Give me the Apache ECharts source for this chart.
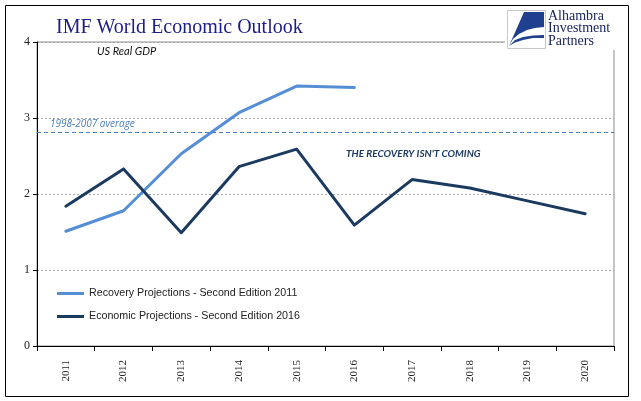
<!DOCTYPE html>
<html>
<head>
<meta charset="utf-8">
<script src="https://cdn.jsdelivr.net/npm/echarts@6/dist/echarts.min.js"></script>
<style>html,body{margin:0;padding:0;background:#fff}#c{width:641px;height:401px}</style>
</head>
<body>
<div id="c"></div>
<script>
var years = ['2011','2012','2013','2014','2015','2016','2017','2018','2019','2020'];
var recovery2011 = [1.51, 1.78, 2.53, 3.07, 3.42, 3.40, null, null, null, null];
var economic2016 = [1.84, 2.33, 1.49, 2.36, 2.59, 1.59, 2.19, 2.08, 1.91, 1.74];
var average19982007 = 2.81;
var yTicks = [0, 1, 2, 3, 4];

var chart = echarts.init(document.getElementById('c'), null, {renderer: 'canvas'});
var serif = '"Liberation Serif", "Times New Roman", serif';
var option = {
  animation: false,
  backgroundColor: '#ffffff',
  title: {
    text: 'IMF World Economic Outlook',
    left: 51, top: 13,
    textStyle: {fontFamily: serif, fontSize: 20, fontWeight: 'normal', color: '#1d1d86'}
  },
  grid: {left: 37, right: 27, top: 42, bottom: 55, show: true, borderColor: '#8c8c8c', borderWidth: 1, backgroundColor: 'transparent'},
  legend: {
    orient: 'vertical', left: 52, top: 283, itemWidth: 27, itemHeight: 3, itemGap: 12,
    icon: 'rect',
    textStyle: {fontFamily: '"Liberation Sans", Arial, sans-serif', fontSize: 10.7, color: '#222'},
    data: ['Recovery Projections - Second Edition 2011', 'Economic Projections - Second Edition 2016']
  },
  xAxis: {
    type: 'category', data: years, boundaryGap: true,
    axisLine: {lineStyle: {color: '#000', width: 1}},
    axisTick: {show: true, length: 5, lineStyle: {color: '#000'}},
    axisLabel: {rotate: 90, margin: 14, fontFamily: serif, fontSize: 11, color: '#222'},
    splitLine: {show: false}
  },
  yAxis: {
    type: 'value', min: yTicks[0], max: yTicks[yTicks.length - 1], interval: 1,
    axisLine: {show: true, lineStyle: {color: '#000', width: 1}},
    axisTick: {show: true, length: 4, lineStyle: {color: '#000'}},
    axisLabel: {margin: 7, fontFamily: serif, fontSize: 12, color: '#222'},
    splitLine: {show: true, lineStyle: {color: '#a6a6a6', type: [2, 2], width: 1}}
  },
  series: [
    {
      name: 'Recovery Projections - Second Edition 2011', type: 'line', data: recovery2011,
      symbol: 'none', lineStyle: {color: '#558ed5', width: 3, cap: 'round', join: 'round'},
      itemStyle: {color: '#558ed5'},
      markLine: {
        silent: true, symbol: 'none',
        lineStyle: {color: '#4a7ebb', type: [4, 3], width: 1},
        label: {show: true, position: 'insideStartTop', formatter: '1998-2007 average',
          fontFamily: '"Open Sans", sans-serif', fontStyle: 'italic', fontSize: 10, color: '#4a7ebb', distance: [13, 3]},
        data: [{yAxis: average19982007}]
      }
    },
    {
      name: 'Economic Projections - Second Edition 2016', type: 'line', data: economic2016,
      symbol: 'none', lineStyle: {color: '#1b3a60', width: 3, cap: 'round', join: 'round'},
      itemStyle: {color: '#1b3a60'}
    }
  ],
  graphic: [
    {type: 'rect', shape: {x: 5.5, y: 5.5, width: 623, height: 391}, style: {fill: 'none', stroke: '#000', lineWidth: 1}, z: 100, silent: true},
    {type: 'text', left: 97, top: 46, style: {text: 'US Real GDP', fontFamily: 'Lato, "Open Sans", sans-serif', fontStyle: 'italic', fontSize: 11, fill: '#111'}},
    {type: 'text', left: 346, top: 149, style: {text: "THE RECOVERY ISN'T COMING", fontFamily: 'Lato, "Open Sans", sans-serif', fontStyle: 'italic', fontWeight: 'bold', fontSize: 10, fill: '#1b3a60'}},
    {type: 'group', x: 505, y: 8, z: 50, children: [
      {type: 'rect', z: 50, shape: {x: 0, y: 0, width: 118, height: 42}, style: {fill: '#fff'}},
      {type: 'rect', z: 51, shape: {x: 2.5, y: 2.5, width: 38, height: 38}, style: {fill: '#fff', stroke: '#c8c8c8', lineWidth: 1}},
      {type: 'polygon', z: 52, shape: {points: [[19,4],[39,4],[39,19],[30,20],[22,22],[14,26],[8,31],[4,38]]}, style: {fill: '#1f3f8f'}},
      {type: 'polygon', z: 52, shape: {points: [[4,38],[10,32],[18,29],[28,27.5],[39,27],[39,30],[28,30],[18,32],[10,34.5]]}, style: {fill: '#1f3f8f'}},
      {type: 'text', z: 52, x: 43, y: 2, style: {text: 'Alhambra\nInvestment\nPartners', fontFamily: serif, fontSize: 14, lineHeight: 12.5, fill: '#1a2660'}}
    ]}
  ]
};
chart.setOption(option);
</script>
</body>
</html>
